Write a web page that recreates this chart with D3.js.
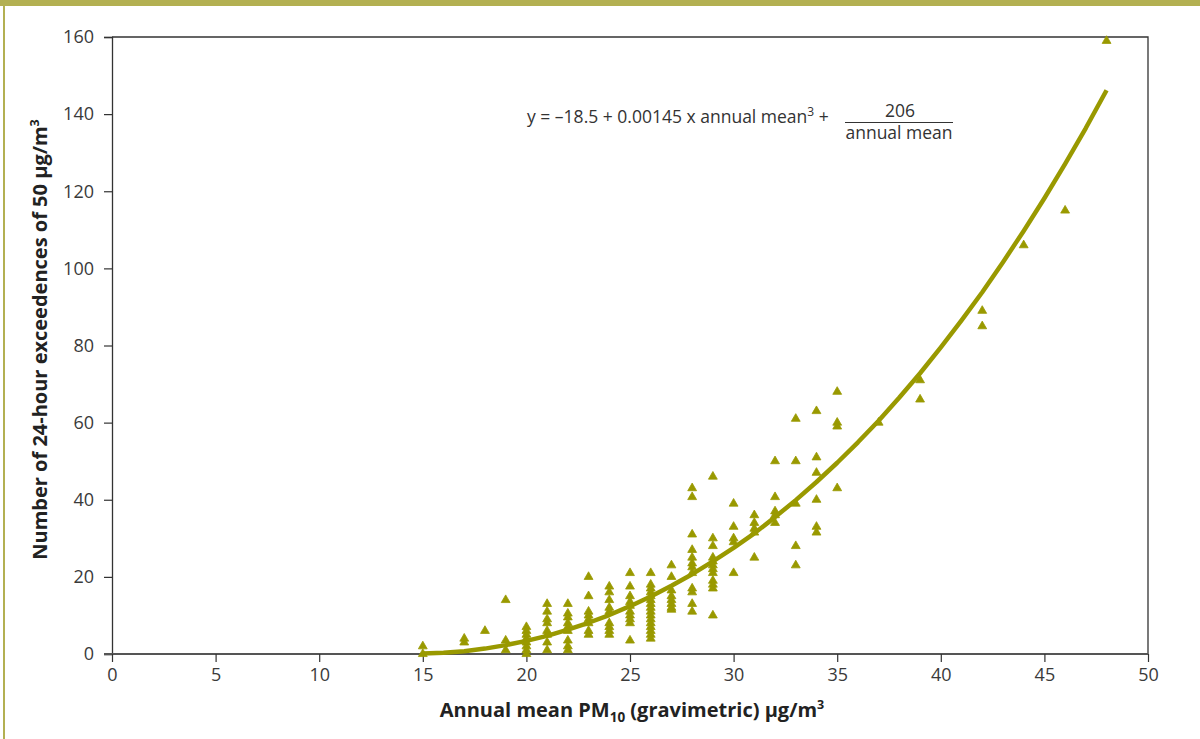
<!DOCTYPE html>
<html>
<head>
<meta charset="utf-8">
<script src="https://cdn.jsdelivr.net/npm/d3@7/dist/d3.min.js"></script>
<style>
  html, body { margin: 0; padding: 0; background: #fff; }
  svg { display: block; }
  text { font-family: "Open Sans", "Noto Sans", sans-serif; }
</style>
</head>
<body>
<svg id="chart" width="1200" height="739"></svg>
<script>
// Monitoring sites: annual mean PM10 and number of daily exceedences
const siteMean = [
  15, 15,
  17, 17,
  18,
  19, 19, 19,
  20, 20, 20, 20, 20, 20, 20, 20,
  21, 21, 21, 21, 21, 21, 21, 21,
  22, 22, 22, 22, 22, 22, 22, 22, 22,
  23, 23, 23, 23, 23, 23, 23, 23,
  24, 24, 24, 24, 24, 24, 24, 24, 24,
  25, 25, 25, 25, 25, 25, 25, 25, 25, 25,
  26, 26, 26, 26, 26, 26, 26, 26, 26, 26, 26, 26, 26, 26, 26, 26,
  27, 27, 27, 27, 27, 27, 27, 27,
  28, 28, 28, 28, 28, 28, 28, 28, 28, 28, 28, 28,
  29, 29, 29, 29, 29, 29, 29, 29, 29, 29, 29, 29,
  30, 30, 30, 30, 30,
  31, 31, 31, 31, 31,
  32, 32, 32, 32, 32,
  33, 33, 33, 33, 33,
  34, 34, 34, 34, 34, 34,
  35, 35, 35, 35,
  37,
  39, 39,
  42, 42,
  44,
  46,
  48
];
const siteExceed = [
  2, 0,
  3, 4,
  6,
  14, 3.5, 1,
  0, 1, 2, 3, 4, 5, 6, 7,
  13, 11, 9, 8, 6, 5, 3, 1,
  13, 10.5, 9.5, 8, 7, 6, 3.5, 2, 1,
  20, 15, 11, 10, 9, 8, 6, 5,
  17.5, 16, 14, 12, 11, 8, 7, 6, 5,
  21, 17.5, 15, 13.5, 12.5, 11, 10, 9, 8, 3.5,
  21, 18, 17, 16, 15, 14, 13, 12, 11, 10, 9, 8, 7, 6, 5, 4,
  23, 20, 16.5, 15, 14, 13, 12, 11.5,
  43, 40.7, 31, 27, 25, 23.5, 22.5, 21, 17, 16, 13, 11,
  46, 30, 28, 25, 24, 23, 22, 21, 19, 18, 17, 10,
  39, 33, 30, 29, 21,
  36, 34, 32.5, 31.5, 25,
  50, 40.7, 37, 36, 34,
  61, 50, 39, 28, 23,
  63, 51, 47, 40, 33, 31.5,
  68, 60, 59, 43,
  60,
  71, 66,
  89, 85,
  106,
  115,
  159
];

// Fitted curve, sampled at whole µg/m³ steps
const fitMean = [15, 16, 17, 18, 19, 20, 21, 22, 23, 24, 25, 26, 27, 28, 29, 30, 31,
                 32, 33, 34, 35, 36, 37, 38, 39, 40, 41, 42, 43, 44, 45, 46, 47, 48];
const fitExceed = [0.1, 0.3, 0.7, 1.4, 2.3, 3.4, 4.7, 6.3, 8.1, 10.1, 12.4, 14.9, 17.7,
                   20.7, 24.0, 27.5, 31.3, 35.5, 39.9, 44.6, 49.6, 54.9, 60.5, 66.5,
                   72.8, 79.5, 86.5, 93.8, 101.6, 109.7, 118.2, 127.1, 136.4, 146.2];

const xTicks = [0, 5, 10, 15, 20, 25, 30, 35, 40, 45, 50];
const yTicks = [0, 20, 40, 60, 80, 100, 120, 140, 160];

const olive = "#999900";
const frameCol = "#b3b052";

const svg = d3.select("#chart");
const margin = { left: 112, right: 52, top: 37, bottom: 85 };
const W = 1200, H = 739;

// page frame: band across the top and rule down the left
svg.append("rect").attr("x", 0).attr("y", 0).attr("width", W).attr("height", 6).attr("fill", frameCol);
svg.append("rect").attr("x", 3).attr("y", 0).attr("width", 2).attr("height", H).attr("fill", frameCol);

const x = d3.scaleLinear().domain([0, 50]).range([margin.left, W - margin.right]);
const y = d3.scaleLinear().domain([0, 160]).range([H - margin.bottom, margin.top]);

// plot box (top and right edges)
svg.append("path")
  .attr("d", `M${x(0)},${y(160)}H${x(50)}V${y(0)}`)
  .attr("fill", "none").attr("stroke", "#333").attr("stroke-width", 1.3);

// y axis
const yAxis = svg.append("g")
  .attr("transform", `translate(${x(0)},0)`)
  .call(d3.axisLeft(y).tickValues(yTicks).tickSize(8).tickPadding(10));
yAxis.select(".domain").attr("stroke", "#333").attr("stroke-width", 1.3);
yAxis.selectAll(".tick line").attr("stroke", "#333").attr("stroke-width", 1.2);
yAxis.selectAll("text").attr("font-size", 18).attr("fill", "#3a3a3a")
  .attr("font-family", "'Open Sans', sans-serif");

// x axis
const xAxis = svg.append("g")
  .attr("transform", `translate(0,${y(0)})`)
  .call(d3.axisBottom(x).tickValues(xTicks).tickSize(8).tickPadding(6).tickSizeOuter(0));
xAxis.select(".domain").attr("stroke", "#555").attr("stroke-width", 2)
  .attr("d", `M${x(0) - 8},0H${x(50)}`);
xAxis.selectAll(".tick line").attr("stroke", "#333").attr("stroke-width", 1.2);
xAxis.selectAll("text").attr("font-size", 18).attr("fill", "#3a3a3a")
  .attr("font-family", "'Open Sans', sans-serif");

// fitted curve
const line = d3.line().x((d, i) => x(fitMean[i])).y(d => y(d));
svg.append("path")
  .datum(fitExceed)
  .attr("d", line)
  .attr("fill", "none")
  .attr("stroke", olive)
  .attr("stroke-width", 4.5)
  .attr("stroke-linejoin", "round");

// site markers
const tri = d3.symbol().type(d3.symbolTriangle).size(34);
svg.append("g").selectAll("path")
  .data(siteMean.map((m, i) => [m, siteExceed[i]]))
  .join("path")
  .attr("d", tri)
  .attr("transform", d => `translate(${x(d[0])},${y(d[1])})`)
  .attr("fill", olive)
  .attr("stroke", olive).attr("stroke-width", 0.8).attr("stroke-linejoin", "round");

// axis titles
const xt = svg.append("text")
  .attr("x", (x(0) + x(50)) / 2 + 2).attr("y", 717)
  .attr("text-anchor", "middle")
  .attr("font-size", 20).attr("font-weight", 700).attr("fill", "#222");
xt.append("tspan").text("Annual mean PM");
xt.append("tspan").attr("font-size", 13.5).attr("dy", 5).text("10");
xt.append("tspan").attr("dy", -5).text(" (gravimetric) μg/m");
xt.append("tspan").attr("font-size", 12.5).attr("dy", -8).text("3");

const yt = svg.append("text")
  .attr("transform", `translate(47,${(y(0) + y(160)) / 2 - 6}) rotate(-90)`)
  .attr("text-anchor", "middle")
  .attr("font-size", 20).attr("font-weight", 700).attr("fill", "#222");
yt.append("tspan").text("Number of 24-hour exceedences of 50 μg/m");
yt.append("tspan").attr("font-size", 12.5).attr("dy", -8).text("3");

// regression equation
const eq = svg.append("g").attr("fill", "#333").attr("font-size", 17.5);
const eqMain = eq.append("text").attr("x", 527).attr("y", 123);
eqMain.append("tspan").text("y = –18.5 + 0.00145 x annual mean");
eqMain.append("tspan").attr("font-size", 12).attr("dy", -7).text("3");
eqMain.append("tspan").attr("dy", 7).text(" +");
eq.append("text").attr("x", 900).attr("y", 117).attr("text-anchor", "middle").text("206");
eq.append("line").attr("x1", 845).attr("x2", 953).attr("y1", 122.5).attr("y2", 122.5)
  .attr("stroke", "#333").attr("stroke-width", 1);
eq.append("text").attr("x", 899).attr("y", 139).attr("text-anchor", "middle").text("annual mean");
</script>
</body>
</html>
